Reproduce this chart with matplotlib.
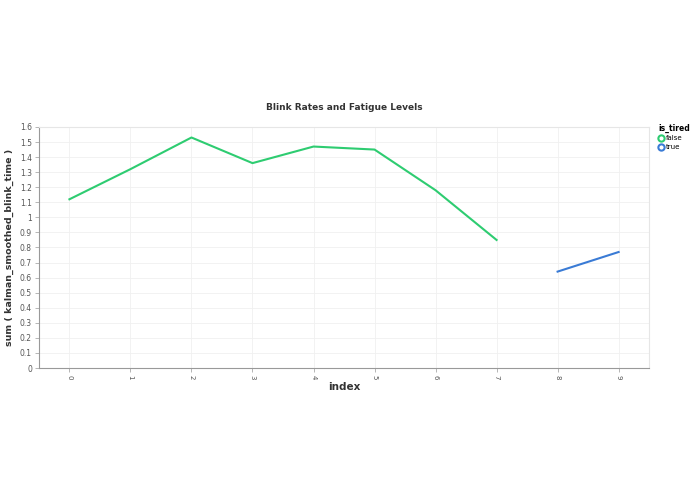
import matplotlib
matplotlib.use("Agg")
import matplotlib.pyplot as plt
from matplotlib.lines import Line2D

idx_false = [0, 1, 2, 3, 4, 5, 6, 7]
val_false = [1.12, 1.32, 1.53, 1.36, 1.47, 1.45, 1.18, 0.85]
idx_true = [8, 9]
val_true = [0.64, 0.77]
ticks = list(range(10))
yticks = [round(0.1 * i, 1) for i in range(17)]

fig = plt.figure(figsize=(6.95, 4.94), dpi=100)
ax = fig.add_axes([0.056, 0.255, 0.878, 0.488])
ax.plot(idx_false, val_false, color="#2ecc71", lw=1.5)
ax.plot(idx_true, val_true, color="#3a7bd5", lw=1.5)
ax.set_xlim(-0.5, 9.5)
ax.set_ylim(0, 1.6)
ax.set_xticks(ticks)
ax.set_xticklabels([str(t) for t in ticks], rotation=-90, fontsize=5, color="#555")
ax.set_yticks(yticks)
ax.set_yticklabels([("%g" % y) for y in yticks], fontsize=5.5, color="#555")
ax.grid(True, color="#f0f0f0", lw=0.6)
for s in ["top", "right"]:
    ax.spines[s].set_color("#e6e6e6")
for s in ["left", "bottom"]:
    ax.spines[s].set_color("#999")
ax.tick_params(length=3, width=0.5, color="#999", pad=2)
ax.set_xlabel("index", fontsize=7.5, fontweight="bold", color="#333", labelpad=2)
ax.set_ylabel("sum ( kalman_smoothed_blink_time )", fontsize=6.8, fontweight="bold", color="#333", labelpad=4)
ax.set_title("Blink Rates and Fatigue Levels", fontsize=6.5, fontweight="bold", color="#333", pad=12)
handles = [Line2D([], [], marker="o", ls="", mfc="white", mec="#2ecc71", mew=1.5, ms=4.5),
           Line2D([], [], marker="o", ls="", mfc="white", mec="#3a7bd5", mew=1.5, ms=4.5)]
leg = fig.legend(handles, ["false", "true"], title="is_tired", loc="upper left",
                 bbox_to_anchor=(0.942, 0.757), frameon=False, fontsize=5,
                 title_fontproperties={"size": 5.5, "weight": "bold"},
                 handletextpad=0.3, borderpad=0, labelspacing=0.4, handlelength=0.8)
leg._legend_box.align = "left"
fig.savefig("out.png", dpi=100)
